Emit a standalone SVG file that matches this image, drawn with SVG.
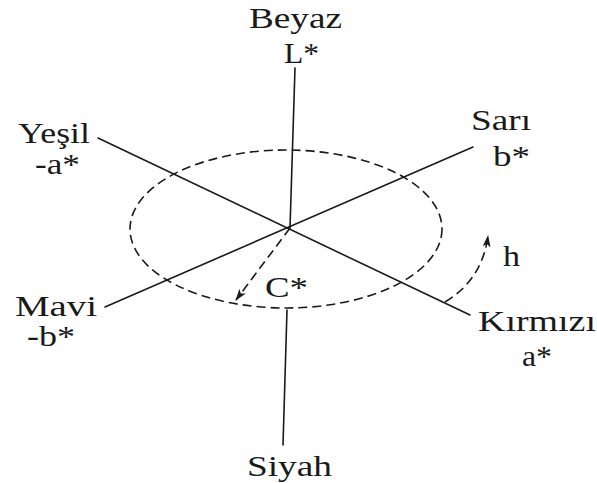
<svg xmlns="http://www.w3.org/2000/svg" width="597" height="483" viewBox="0 0 597 483">
<style>
.t{font-family:"Liberation Serif","Times New Roman",serif;font-size:30px;fill:#1a1a1a}
.ax{stroke:#1a1a1a;stroke-width:1.6;fill:none;stroke-linecap:round}
.ds{stroke:#1a1a1a;stroke-width:1.6;fill:none;stroke-dasharray:9 5}
</style>
<defs>
<marker id="ah" viewBox="0 0 12 8" refX="11" refY="4" markerWidth="12" markerHeight="8" markerUnits="userSpaceOnUse" orient="auto">
<path d="M0,0 L12,4 L0,8 L3,4 Z" fill="#1a1a1a"/>
</marker>
</defs>
<rect width="597" height="483" fill="#fff"/>
<g id="connectors">
<line class="ax" x1="295" y1="68" x2="290" y2="228"/>
<line class="ax" x1="287" y1="310" x2="283" y2="445"/>
<line class="ax" x1="98" y1="138" x2="470" y2="315"/>
<line class="ax" x1="105" y1="307" x2="473" y2="147"/>
<ellipse class="ds" cx="286" cy="229" rx="156" ry="79"/>
<line class="ds" x1="290" y1="228" x2="236" y2="300" marker-end="url(#ah)"/>
<path class="ds" d="M445,302 Q482,280 488,236" marker-end="url(#ah)"/>
</g>
<g id="beyaz"><text class="t" x="249" y="28" textLength="93" lengthAdjust="spacingAndGlyphs">Beyaz</text><text class="t" x="284" y="63" textLength="35" lengthAdjust="spacingAndGlyphs">L*</text></g>
<g id="yesil"><text class="t" x="18" y="143" textLength="72" lengthAdjust="spacingAndGlyphs">Yeşil</text><text class="t" x="35" y="174" textLength="45" lengthAdjust="spacingAndGlyphs">-a*</text></g>
<g id="sari"><text class="t" x="471" y="130" textLength="60" lengthAdjust="spacingAndGlyphs">Sarı</text><text class="t" x="493" y="166" textLength="37" lengthAdjust="spacingAndGlyphs">b*</text></g>
<g id="kirmizi"><text class="t" x="478" y="331" textLength="118" lengthAdjust="spacingAndGlyphs">Kırmızı</text><text class="t" x="522" y="366" textLength="30" lengthAdjust="spacingAndGlyphs">a*</text></g>
<g id="mavi"><text class="t" x="15" y="316" textLength="82" lengthAdjust="spacingAndGlyphs">Mavi</text><text class="t" x="27" y="346" textLength="48" lengthAdjust="spacingAndGlyphs">-b*</text></g>
<g id="siyah"><text class="t" x="247" y="476" textLength="85" lengthAdjust="spacingAndGlyphs">Siyah</text></g>
<g id="c"><text class="t" x="265" y="297" textLength="43" lengthAdjust="spacingAndGlyphs">C*</text></g>
<g id="h"><text class="t" x="503" y="266" textLength="17" lengthAdjust="spacingAndGlyphs">h</text></g>
</svg>
